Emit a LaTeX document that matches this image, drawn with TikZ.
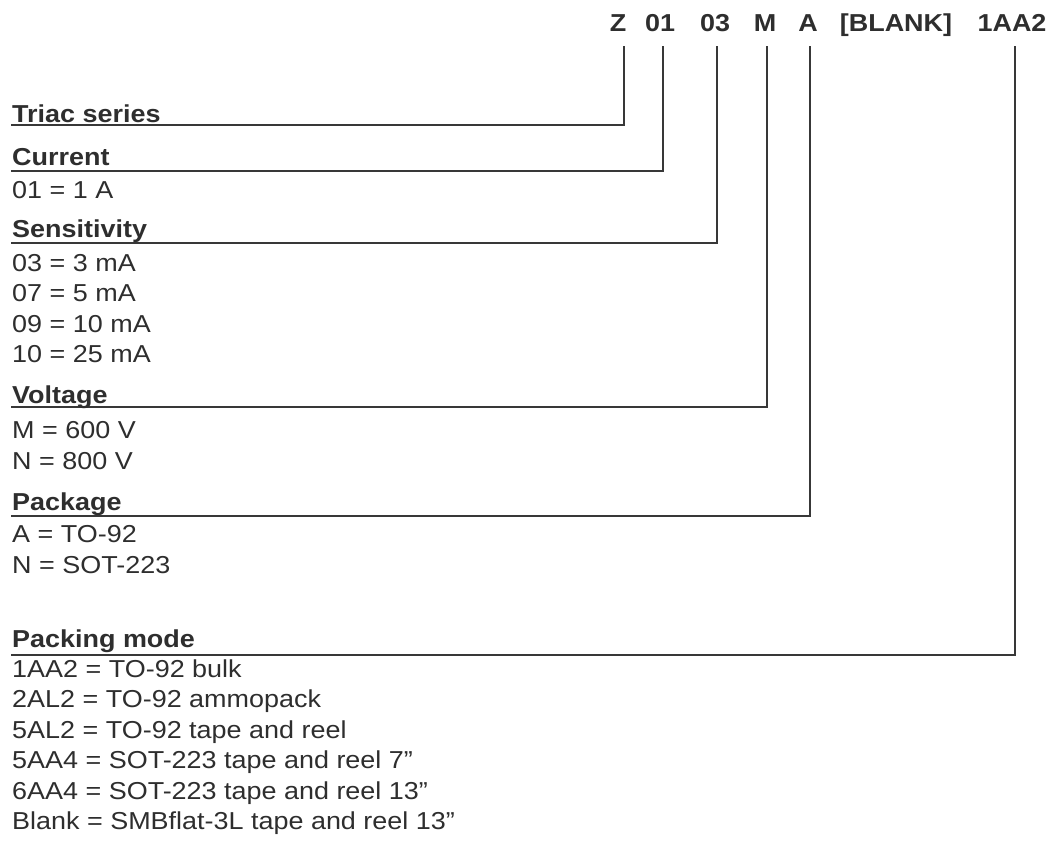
\documentclass[tikz,border=0pt]{standalone}
\usepackage{fontspec}
\setmainfont{Liberation Sans}[FakeStretch=1.1]
\definecolor{ink}{HTML}{2E2E2E}
\definecolor{rule}{HTML}{383838}
\tikzset{
  lbl/.style={anchor=base west, inner sep=0pt, text=ink, font=\fontsize{24.5}{28}\selectfont},
  hdr/.style={lbl, font=\fontsize{24.5}{28}\selectfont\bfseries},
  code/.style={anchor=base, inner sep=0pt, text=ink, font=\fontsize{24.5}{28}\selectfont\bfseries},
  lead/.style={draw=rule, line width=2.2pt, line cap=rect}
}
\begin{document}
\begin{tikzpicture}[x=1pt, y=-1pt]
\useasboundingbox (0,0) rectangle (1051,843);

% part number codes
\node[code] (cz)  at (618,32) {Z};
\node[code] (c01) at (660,32) {01};
\node[code] (c03) at (715,32) {03};
\node[code] (cm)  at (765,32) {M};
\node[code] (ca)  at (808,32) {A};
\node[code] (cb)  at (896,32) {[BLANK]};
\node[code] (cp)  at (1012,32) {1AA2};

% leader tops
\coordinate (tz)  at (624,47);
\coordinate (t01) at (663,47);
\coordinate (t03) at (717,47);
\coordinate (tm)  at (767,47);
\coordinate (ta)  at (810,47);
\coordinate (tp)  at (1015,47);

% underline starts
\coordinate (uz)  at (12,125);
\coordinate (u01) at (12,171);
\coordinate (u03) at (12,243);
\coordinate (um)  at (12,407);
\coordinate (ua)  at (12,516);
\coordinate (up)  at (12,655);

\draw[lead] (tz)  |- (uz);
\draw[lead] (t01) |- (u01);
\draw[lead] (t03) |- (u03);
\draw[lead] (tm)  |- (um);
\draw[lead] (ta)  |- (ua);
\draw[lead] (tp)  |- (up);

% headings and values
\node[hdr] (h1) at (12,122) {Triac series};

\node[hdr] (h2) at (12,165) {Current};
\node[lbl] (v21) at (12,198) {01 = 1 A};

\node[hdr] (h3) at (12,237) {Sensitivity};
\node[lbl] (v31) at (12,271) {03 = 3 mA};
\node[lbl] (v32) at (12,301.5) {07 = 5 mA};
\node[lbl] (v33) at (12,332) {09 = 10 mA};
\node[lbl] (v34) at (12,362.5) {10 = 25 mA};

\node[hdr] (h4) at (12,403) {Voltage};
\node[lbl] (v41) at (12,438) {M = 600 V};
\node[lbl] (v42) at (12,469) {N = 800 V};

\node[hdr] (h5) at (12,510) {Package};
\node[lbl] (v51) at (12,542) {A = TO-92};
\node[lbl] (v52) at (12,573) {N = SOT-223};

\node[hdr] (h6) at (12,647) {Packing mode};
\node[lbl] (v61) at (12,677) {1AA2 = TO-92 bulk};
\node[lbl] (v62) at (12,707.5) {2AL2 = TO-92 ammopack};
\node[lbl] (v63) at (12,738) {5AL2 = TO-92 tape and reel};
\node[lbl] (v64) at (12,768.5) {5AA4 = SOT-223 tape and reel 7"};
\node[lbl] (v65) at (12,799) {6AA4 = SOT-223 tape and reel 13"};
\node[lbl] (v66) at (12,829.5) {Blank = SMBflat-3L tape and reel 13"};
\end{tikzpicture}
\end{document}
